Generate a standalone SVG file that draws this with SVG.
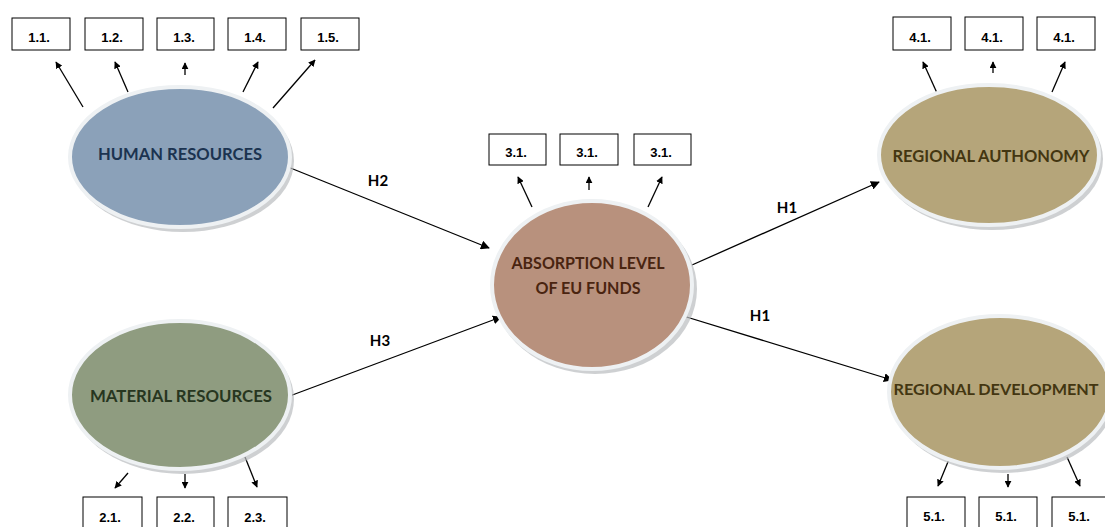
<svg xmlns="http://www.w3.org/2000/svg" width="1105" height="527" viewBox="0 0 1105 527">
<defs>
<marker id="ah" viewBox="0 0 10 10" refX="9" refY="5" markerWidth="7" markerHeight="7" markerUnits="userSpaceOnUse" orient="auto">
<path d="M0,0 L10,5 L0,10 z" fill="#000"/>
</marker>
<marker id="ahb" viewBox="0 0 10 10" refX="9" refY="5" markerWidth="9" markerHeight="9" markerUnits="userSpaceOnUse" orient="auto">
<path d="M0,0 L10,5 L0,10 z" fill="#000"/>
</marker>
</defs>
<style>
.shadow{fill:#b9bcbf;opacity:0.7}
.rim{stroke:#eef1f3;stroke-width:4}
.box{fill:#fff;stroke:#000;stroke-width:1}
.bt{font-family:"Liberation Sans",Arial,sans-serif;font-weight:bold;font-size:13px;fill:#000;text-anchor:middle}
.nt{font-family:Lato,"Liberation Sans",sans-serif;font-weight:bold;font-size:17px;text-anchor:middle}
.ht{font-family:Lato,"Liberation Sans",sans-serif;font-weight:bold;font-size:15px;fill:#000;text-anchor:middle}
.c{stroke:#000;stroke-width:1.3;fill:none;marker-end:url(#ah)}
.cb{stroke:#000;stroke-width:1.3;fill:none;marker-end:url(#ahb)}
</style>
<rect width="1105" height="527" fill="#fff"/>

<g id="connectors">
<line class="c" x1="83" y1="107" x2="56" y2="62"/>
<line class="c" x1="128" y1="92" x2="115" y2="62"/>
<line class="c" x1="185" y1="75" x2="185" y2="63"/>
<line class="c" x1="243" y1="92" x2="258" y2="62"/>
<line class="c" x1="273" y1="108" x2="315" y2="60"/>
<line class="c" x1="532" y1="207" x2="518" y2="177"/>
<line class="c" x1="589" y1="190" x2="589" y2="177"/>
<line class="c" x1="648" y1="207" x2="662" y2="177"/>
<line class="c" x1="937" y1="93" x2="923" y2="62"/>
<line class="c" x1="993" y1="73" x2="993" y2="62"/>
<line class="c" x1="1052" y1="92" x2="1065" y2="62"/>
<line class="c" x1="128" y1="473" x2="115" y2="488"/>
<line class="c" x1="185" y1="474" x2="185" y2="488"/>
<line class="c" x1="245" y1="457" x2="257" y2="487"/>
<line class="c" x1="950" y1="457" x2="938" y2="486"/>
<line class="c" x1="1008" y1="474" x2="1008" y2="487"/>
<line class="c" x1="1067" y1="457" x2="1080" y2="486"/>
<line class="cb" x1="288" y1="167" x2="489" y2="248"/>
<line class="cb" x1="287" y1="397" x2="501" y2="317"/>
<line class="cb" x1="692" y1="265" x2="879" y2="182"/>
<line class="cb" x1="680" y1="315" x2="892" y2="380"/>
<text class="ht" x="378" y="186">H2</text>
<text class="ht" x="380" y="346">H3</text>
<text class="ht" x="787" y="213">H1</text>
<text class="ht" x="760" y="321">H1</text>
</g>

<g id="human-resources">
<ellipse class="shadow" cx="183" cy="161" rx="111" ry="71"/>
<ellipse class="rim" cx="180" cy="157" rx="110" ry="70" fill="#8ba1b9"/>
<text class="nt" x="180" y="160" fill="#1b3350" textLength="164" lengthAdjust="spacingAndGlyphs">HUMAN RESOURCES</text>
</g>

<g id="material-resources">
<ellipse class="shadow" cx="183" cy="399" rx="111" ry="75"/>
<ellipse class="rim" cx="180" cy="395" rx="110" ry="74" fill="#8f9c80"/>
<text class="nt" x="181" y="402" fill="#27361f" textLength="182" lengthAdjust="spacingAndGlyphs">MATERIAL RESOURCES</text>
</g>

<g id="absorption">
<ellipse class="shadow" cx="595" cy="289" rx="102" ry="85"/>
<ellipse class="rim" cx="592" cy="285" rx="100" ry="84" fill="#b8917d"/>
<text class="nt" x="588" y="269" fill="#4a2410" textLength="153" lengthAdjust="spacingAndGlyphs">ABSORPTION LEVEL</text>
<text class="nt" x="588" y="294" fill="#4a2410" textLength="105" lengthAdjust="spacingAndGlyphs">OF EU FUNDS</text>
</g>

<g id="regional-authonomy">
<ellipse class="shadow" cx="992" cy="159" rx="111" ry="71"/>
<ellipse class="rim" cx="989" cy="155" rx="110" ry="70" fill="#b5a57a"/>
<text class="nt" x="991" y="162" fill="#433611" textLength="197" lengthAdjust="spacingAndGlyphs">REGIONAL AUTHONOMY</text>
</g>

<g id="regional-development">
<ellipse class="shadow" cx="1003" cy="396" rx="112" ry="77"/>
<ellipse class="rim" cx="1000" cy="392" rx="111" ry="76" fill="#b5a57a"/>
<text class="nt" x="996" y="395" fill="#433611" style="font-size:15.5px" textLength="205" lengthAdjust="spacingAndGlyphs">REGIONAL DEVELOPMENT</text>
</g>

<g id="box-1-1"><rect class="box" x="12" y="18" width="58" height="32"/><text class="bt" x="39" y="42">1.1.</text></g>
<g id="box-1-2"><rect class="box" x="85" y="18" width="58" height="32"/><text class="bt" x="112" y="42">1.2.</text></g>
<g id="box-1-3"><rect class="box" x="157" y="18" width="57" height="32"/><text class="bt" x="184" y="42">1.3.</text></g>
<g id="box-1-4"><rect class="box" x="228" y="18" width="58" height="32"/><text class="bt" x="255" y="42">1.4.</text></g>
<g id="box-1-5"><rect class="box" x="301" y="18" width="58" height="32"/><text class="bt" x="328" y="42">1.5.</text></g>

<g id="box-3-1a"><rect class="box" x="489" y="134" width="57" height="31"/><text class="bt" x="516" y="157">3.1.</text></g>
<g id="box-3-1b"><rect class="box" x="560" y="134" width="58" height="31"/><text class="bt" x="587" y="157">3.1.</text></g>
<g id="box-3-1c"><rect class="box" x="634" y="134" width="57" height="31"/><text class="bt" x="661" y="157">3.1.</text></g>

<g id="box-4-1a"><rect class="box" x="893" y="17" width="58" height="33"/><text class="bt" x="920" y="42">4.1.</text></g>
<g id="box-4-1b"><rect class="box" x="965" y="17" width="58" height="33"/><text class="bt" x="992" y="42">4.1.</text></g>
<g id="box-4-1c"><rect class="box" x="1037" y="17" width="58" height="33"/><text class="bt" x="1064" y="42">4.1.</text></g>

<g id="box-2-1"><rect class="box" x="83" y="497" width="59" height="40"/><text class="bt" x="110" y="522">2.1.</text></g>
<g id="box-2-2"><rect class="box" x="157" y="497" width="57" height="40"/><text class="bt" x="184" y="522">2.2.</text></g>
<g id="box-2-3"><rect class="box" x="228" y="497" width="59" height="40"/><text class="bt" x="255" y="522">2.3.</text></g>

<g id="box-5-1a"><rect class="box" x="907" y="497" width="58" height="40"/><text class="bt" x="934" y="521">5.1.</text></g>
<g id="box-5-1b"><rect class="box" x="979" y="497" width="58" height="40"/><text class="bt" x="1006" y="521">5.1.</text></g>
<g id="box-5-1c"><rect class="box" x="1052" y="497" width="58" height="40"/><text class="bt" x="1079" y="521">5.1.</text></g>
</svg>
